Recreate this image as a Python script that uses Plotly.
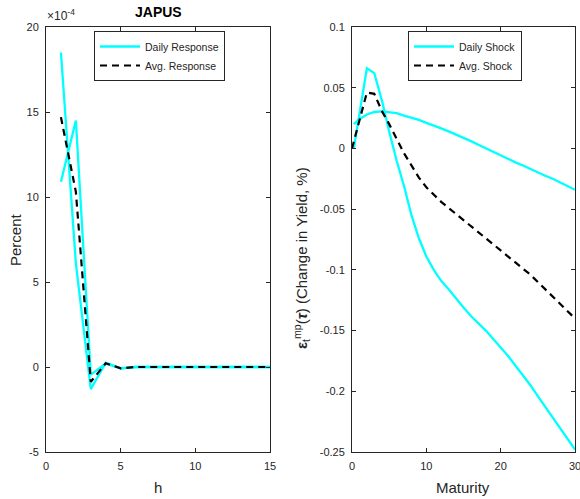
import plotly.graph_objects as go

W, H = 580, 499

# ---------------- Data ----------------
# Left panel (values in units of 1e-4 percent)
horizon = list(range(1, 16))
daily_resp_a = [18.5, 6.1, -1.30, 0.25, -0.08, 0, 0, 0, 0, 0, 0, 0, 0, 0, 0]
daily_resp_b = [10.9, 14.5, -0.45, 0.20, -0.08, 0, 0, 0, 0, 0, 0, 0, 0, 0, 0]
avg_resp = [14.7, 10.3, -0.87, 0.22, -0.08, 0, 0, 0, 0, 0, 0, 0, 0, 0, 0]

# Right panel
maturity_daily = [0.25, 1, 2, 3, 4, 5, 6, 7, 8, 9, 10, 11, 12, 13, 14, 15, 16, 17, 18, 19, 20,
                  21, 22, 23, 24, 25, 26, 27, 28, 29, 30]
daily_shock_a = [0.000, 0.030, 0.066, 0.062, 0.040, 0.014, -0.010, -0.031, -0.055, -0.074,
                 -0.089, -0.100, -0.109, -0.116, -0.124, -0.131, -0.138, -0.144, -0.150, -0.157,
                 -0.164, -0.171, -0.179, -0.187, -0.195, -0.204, -0.213, -0.221, -0.230, -0.239,
                 -0.248]
daily_shock_b = [0.020, 0.024, 0.028, 0.030, 0.0305, 0.030, 0.029, 0.027, 0.0255, 0.0235,
                 0.021, 0.019, 0.0165, 0.014, 0.0115, 0.009, 0.006, 0.003, 0.000, -0.003,
                 -0.006, -0.009, -0.0115, -0.014, -0.017, -0.020, -0.0225, -0.025, -0.028, -0.031,
                 -0.034]
maturity_avg = [0, 1, 2, 3, 4, 5, 6, 7, 8, 9, 10, 11, 12, 13, 14, 15, 16, 17, 18, 19, 20,
                21, 22, 23, 24, 25, 26, 27, 28, 29, 30]
avg_shock = [0.000, 0.023, 0.046, 0.045, 0.031, 0.020, 0.008, -0.004, -0.014, -0.024,
             -0.032, -0.038, -0.044, -0.049, -0.054, -0.059, -0.064, -0.069, -0.074, -0.079,
             -0.084, -0.089, -0.094, -0.099, -0.104, -0.110, -0.116, -0.122, -0.128, -0.134,
             -0.140]

left_xticks = [0, 5, 10, 15]
left_yticks = [-5, 0, 5, 10, 15, 20]
right_xticks = [0, 10, 20, 30]
right_yticks = [-0.25, -0.2, -0.15, -0.1, -0.05, 0, 0.05, 0.1]
right_yticklabels = ["-0.25", "-0.2", "-0.15", "-0.1", "-0.05", "0", "0.05", "0.1"]
left_yticklabels = ["-5", "0", "5", "10", "15", "20"]

CYAN = "#00FFFF"
AX = "#262626"
FONT = "Liberation Sans, Arial, sans-serif"

def px_x(p):
    return p / W

def px_y(p):
    return 1 - p / H

fig = go.Figure()

fig.add_trace(go.Scatter(x=horizon, y=daily_resp_a, mode="lines", name="Daily Response",
                         line=dict(color=CYAN, width=2.3), xaxis="x", yaxis="y", legend="legend"))
fig.add_trace(go.Scatter(x=horizon, y=daily_resp_b, mode="lines", name="Daily Response",
                         line=dict(color=CYAN, width=2.3), xaxis="x", yaxis="y", showlegend=False))
fig.add_trace(go.Scatter(x=horizon, y=avg_resp, mode="lines", name="Avg. Response",
                         line=dict(color="black", width=2.2, dash="7px,5px"), xaxis="x", yaxis="y",
                         legend="legend"))

fig.add_trace(go.Scatter(x=maturity_daily, y=daily_shock_a, mode="lines", name="Daily Shock",
                         line=dict(color=CYAN, width=2.3), xaxis="x2", yaxis="y2", legend="legend2"))
fig.add_trace(go.Scatter(x=maturity_daily, y=daily_shock_b, mode="lines", name="Daily Shock",
                         line=dict(color=CYAN, width=2.3), xaxis="x2", yaxis="y2", showlegend=False))
fig.add_trace(go.Scatter(x=maturity_avg, y=avg_shock, mode="lines", name="Avg. Shock",
                         line=dict(color="black", width=2.2, dash="7px,5px"), xaxis="x2", yaxis="y2",
                         legend="legend2"))

axis_common = dict(showline=True, linecolor=AX, linewidth=1, mirror="ticks", ticks="inside",
                   ticklen=4, tickcolor=AX, tickwidth=1, showgrid=False, zeroline=False,
                   automargin=False, ticklabeloverflow="allow",
                   tickfont=dict(family=FONT, size=11, color=AX))

ydom = [px_y(452), px_y(27)]

fig.update_layout(
    width=W, height=H, margin=dict(l=0, r=0, t=0, b=0, autoexpand=False),
    paper_bgcolor="white", plot_bgcolor="white",
    font=dict(family=FONT, color=AX),
    xaxis=dict(domain=[px_x(46), px_x(270)], range=[0, 15], tickvals=left_xticks,
               anchor="y", ticklabelstandoff=4, **axis_common),
    yaxis=dict(domain=ydom, range=[-5, 20], tickvals=left_yticks, ticktext=left_yticklabels,
               anchor="x", ticklabelstandoff=4, **axis_common),
    xaxis2=dict(domain=[px_x(352), px_x(575)], range=[0, 30], tickvals=right_xticks,
                anchor="y2", ticklabelstandoff=4, **axis_common),
    yaxis2=dict(domain=ydom, range=[-0.25, 0.1], tickvals=right_yticks,
                ticktext=right_yticklabels, anchor="x2", ticklabelstandoff=4, **axis_common),
    legend=dict(x=px_x(94), y=px_y(31), xanchor="left", yanchor="top",
                bgcolor="white", bordercolor=AX, borderwidth=1,
                font=dict(family=FONT, size=10.5, color=AX), itemwidth=40,
                tracegroupgap=0),
    legend2=dict(x=px_x(408), y=px_y(31), xanchor="left", yanchor="top",
                 bgcolor="white", bordercolor=AX, borderwidth=1,
                 font=dict(family=FONT, size=10.5, color=AX), itemwidth=40,
                 tracegroupgap=0),
    showlegend=True,
)

def label(text, x, y, size=15, angle=0, color=AX):
    fig.add_annotation(text=text, x=px_x(x), y=px_y(y), xref="paper", yref="paper",
                       xanchor="center", yanchor="middle",
                       showarrow=False, textangle=angle,
                       font=dict(family=FONT, size=size, color=color))

label("<b>JAPUS</b>", 158, 12, size=14, color="black")
fig.add_annotation(text="\u00d710<sup>-4</sup>", x=px_x(45), y=px_y(25), xref="paper", yref="paper",
                   xanchor="left", yanchor="bottom", showarrow=False,
                   font=dict(family=FONT, size=12, color=AX))
label("Percent", 15, 240, angle=-90)
label("h", 158, 487)
label("Maturity", 463, 487)
label("<b>\u03b5</b><sub>t</sub><sup>mp</sup>(<b><i>\u03c4</i></b>) (Change in Yield, %)",
      301, 258, angle=-90)

fig.write_html("out.html", config={"displayModeBar": False},
               post_script="document.body.style.margin='0';document.body.style.padding='0';")
